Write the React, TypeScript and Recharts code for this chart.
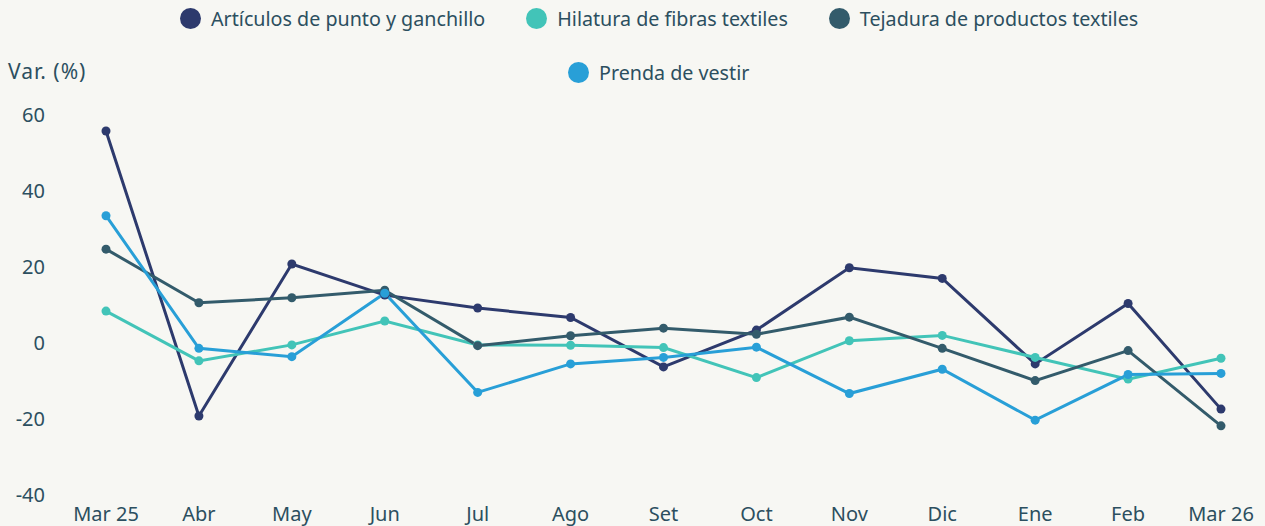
import React from "react";
import { LineChart, Line, XAxis, YAxis } from "recharts";

const months = ["Mar 25", "Abr", "May", "Jun", "Jul", "Ago", "Set", "Oct", "Nov", "Dic", "Ene", "Feb", "Mar 26"];
const articulos = [55.8, -19.2, 20.8, 12.6, 9.2, 6.7, -6.3, 3.4, 19.8, 17.0, -5.5, 10.4, -17.4];
const hilatura = [8.4, -4.7, -0.5, 5.8, -0.5, -0.6, -1.2, -9.1, 0.6, 2.0, -3.8, -9.5, -4.0];
const tejadura = [24.7, 10.6, 11.9, 13.9, -0.7, 1.9, 3.9, 2.3, 6.8, -1.4, -9.9, -2.0, -21.8];
const prenda = [33.5, -1.4, -3.6, 13.1, -13.0, -5.5, -3.8, -1.1, -13.3, -6.9, -20.3, -8.3, -8.0];
const yTicks = [-40, -20, 0, 20, 40, 60];

const series = [
  { key: "articulos", name: "Artículos de punto y ganchillo", color: "#2d3a6d", values: articulos },
  { key: "hilatura", name: "Hilatura de fibras textiles", color: "#42c4b8", values: hilatura },
  { key: "tejadura", name: "Tejadura de productos textiles", color: "#335b6b", values: tejadura },
  { key: "prenda", name: "Prenda de vestir", color: "#289fd7", values: prenda },
];

const data = months.map((m, i) => {
  const row: Record<string, string | number> = { month: m };
  series.forEach((s) => (row[s.key] = s.values[i]));
  return row;
});

const FONT = "'Noto Sans', sans-serif";
const TEXT = "#2c4f5f";

function LegendItem({ name, color }: { name: string; color: string }) {
  return (
    <div style={{ display: "flex", alignItems: "center", marginRight: 41 }}>
      <span style={{ width: 21, height: 21, borderRadius: "50%", background: color, display: "inline-block", marginRight: 10 }} />
      <span style={{ fontSize: 19.7, color: TEXT, fontFamily: FONT, whiteSpace: "nowrap" }}>{name}</span>
    </div>
  );
}

export default function App() {
  return (
    <div style={{ position: "absolute", left: 0, top: 0, width: 1265, height: 526, background: "#f7f7f3", overflow: "hidden" }}>
      <div style={{ position: "absolute", left: 180, top: 5, display: "flex" }}>
        {series.slice(0, 3).map((s) => (
          <LegendItem key={s.key} name={s.name} color={s.color} />
        ))}
      </div>
      <div style={{ position: "absolute", left: 568, top: 59, display: "flex" }}>
        {series.slice(3).map((s) => (
          <LegendItem key={s.key} name={s.name} color={s.color} />
        ))}
      </div>
      <div style={{ position: "absolute", left: 8, top: 57, fontSize: 21, letterSpacing: 1, color: TEXT, fontFamily: FONT }}>Var. (%)</div>
      <div style={{ position: "absolute", left: 0, top: 0 }}>
        <LineChart width={1265} height={526} data={data} margin={{ top: 115, right: 44, bottom: 1, left: 0 }}>
          <XAxis
            dataKey="month"
            axisLine={false}
            tickLine={false}
            tickSize={0}
            tickMargin={12}
            height={30}
            interval={0}
            tick={{ fill: TEXT, fontSize: 20, fontFamily: FONT }}
          />
          <YAxis
            type="number"
            domain={[-40, 60]}
            ticks={yTicks}
            axisLine={false}
            tickLine={false}
            tickSize={0}
            tickMargin={61}
            width={106}
            tick={{ fill: TEXT, fontSize: 20, fontFamily: FONT }}
          />
          {series.map((s) => (
            <Line
              key={s.key}
              dataKey={s.key}
              name={s.name}
              stroke={s.color}
              strokeWidth={3}
              dot={{ r: 4.5, fill: s.color, stroke: s.color, strokeWidth: 0 }}
              activeDot={false}
              isAnimationActive={false}
            />
          ))}
        </LineChart>
      </div>
    </div>
  );
}
